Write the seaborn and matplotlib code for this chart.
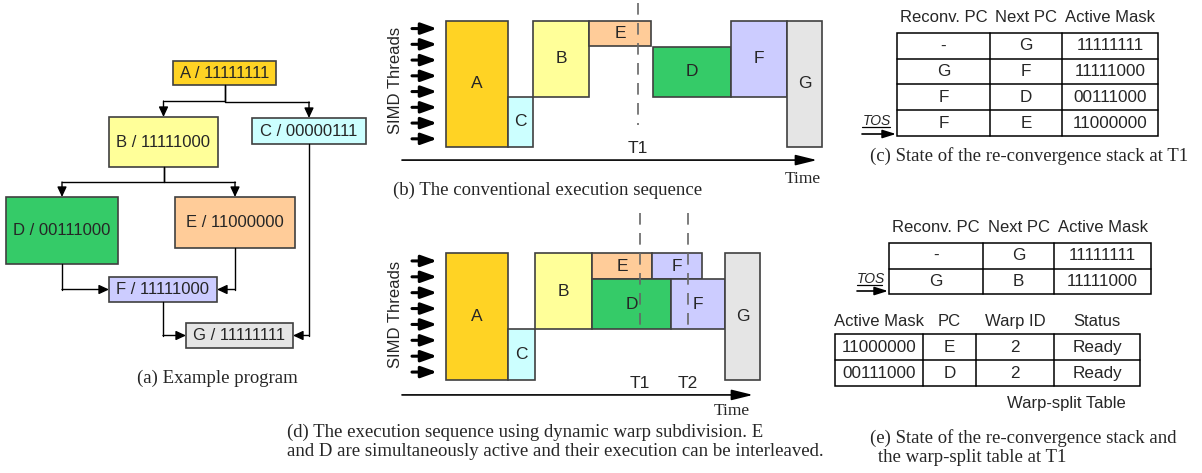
"""
Dynamic warp subdivision figure: example program, execution sequences
and re-convergence stack / warp-split table states.
"""

import matplotlib

matplotlib.use("Agg")
import matplotlib.pyplot as plt
from matplotlib.patches import Rectangle
import seaborn as sns

W, H = 1202, 473

# (a) example program: basic blocks and their active masks
NODES = ["A", "B", "C", "D", "E", "F", "G"]
MASKS = ["11111111", "11111000", "00000111", "00111000", "11000000", "11111000", "11111111"]
BRANCH_EDGES = [("A", "B"), ("A", "C"), ("B", "D"), ("B", "E")]
MERGE_EDGES = [("D", "F"), ("E", "F"), ("F", "G"), ("C", "G")]

# (b) conventional execution: block, start/end time, top/bottom thread lane
SEQ_B_BLOCK = ["A", "C", "B", "E", "D", "F", "G"]
SEQ_B_START = [0.0, 6.2, 8.7, 14.3, 20.7, 28.5, 34.1]
SEQ_B_END = [6.2, 8.7, 14.3, 20.5, 28.5, 34.1, 37.6]
SEQ_B_TOP = [0.0, 4.83, 0.0, 0.0, 1.65, 0.0, 0.0]
SEQ_B_BOTTOM = [8.0, 8.0, 4.83, 1.6, 4.83, 4.83, 8.0]
SEQ_B_MARK = ["T1"]
SEQ_B_MARK_T = [19.2]

# (d) dynamic warp subdivision
SEQ_D_BLOCK = ["A", "C", "B", "E", "F", "D", "F", "G"]
SEQ_D_START = [0.0, 6.2, 8.9, 14.6, 20.6, 14.6, 22.5, 27.9]
SEQ_D_END = [6.2, 8.9, 14.6, 20.6, 25.6, 22.5, 27.9, 31.4]
SEQ_D_TOP = [0.0, 4.8, 0.0, 0.0, 0.0, 1.64, 1.64, 0.0]
SEQ_D_BOTTOM = [8.0, 8.0, 4.8, 1.64, 1.64, 4.8, 4.8, 8.0]
SEQ_D_MARK = ["T1", "T2"]
SEQ_D_MARK_T = [19.4, 24.2]

N_THREADS = 8

# (c) re-convergence stack at T1
STACK_C_HEADER = ["Reconv. PC", "Next PC", "Active Mask"]
STACK_C_ROWS = [
    ["-", "G", "11111111"],
    ["G", "F", "11111000"],
    ["F", "D", "00111000"],
    ["F", "E", "11000000"],
]

# (e) stack + warp-split table at T1
STACK_E_ROWS = [
    ["-", "G", "11111111"],
    ["G", "B", "11111000"],
]
SPLIT_HEADER = ["Active Mask", "PC", "Warp ID", "Status"]
SPLIT_ROWS = [
    ["11000000", "E", "2", "Ready"],
    ["00111000", "D", "2", "Ready"],
]

COLORS = {
    "A": "#FFD324",
    "B": "#FFFF99",
    "C": "#CCFFFF",
    "D": "#35CB68",
    "E": "#FFCC99",
    "F": "#CCCCFF",
    "G": "#E5E5E5",
}

# layout of the flowchart boxes (pixels: left, top, right, bottom)
NODE_BOX = {
    "A": (173, 61, 276, 85),
    "B": (109, 117, 218, 167),
    "C": (252, 118, 366, 144),
    "D": (6, 197, 118, 264),
    "E": (175, 197, 295, 248),
    "F": (109, 277, 217, 302),
    "G": (186, 323, 293, 348),
}

SANS = "Liberation Sans"
SERIF = "Liberation Serif"
EDGE = "#404040"
CAPTION_SIZE = 13.5

sns.set_theme(style="white")
plt.rcParams["font.family"] = [SANS, "DejaVu Sans"]


def arrow(ax, start, end, lw=1.0, head="-|>,head_length=0.6,head_width=0.28", scale=10):
    ax.annotate(
        "",
        xy=end,
        xytext=start,
        arrowprops=dict(
            arrowstyle=head,
            color="black",
            lw=lw,
            shrinkA=0,
            shrinkB=0,
            mutation_scale=scale,
        ),
    )


def panel_axes(fig, box, origin, scale):
    """Axes over a pixel box whose data units are time steps and thread lanes"""
    x0, y0, x1, y1 = box
    ax = fig.add_axes([x0 / W, 1 - y1 / H, (x1 - x0) / W, (y1 - y0) / H])
    ax.set_xlim((x0 - origin[0]) / scale[0], (x1 - origin[0]) / scale[0])
    ax.set_ylim((y1 - origin[1]) / scale[1], (y0 - origin[1]) / scale[1])
    ax.axis("off")
    ax.patch.set_alpha(0)
    return ax


def draw_sequence(ax, blocks, start, end, top, bottom, marks, mark_t, mark_span,
                  label_y, axis_end, time_xy, simd_y):
    # thread arrows
    for lane in range(N_THREADS):
        arrow(ax, (-3.4, lane + 0.5), (-0.9, lane + 0.5), lw=2.2,
              head="-|>,head_length=0.95,head_width=0.34", scale=10)
    ax.text(-5.1, simd_y, "SIMD Threads", rotation=90, ha="center", va="center",
            fontsize=12)

    for name, s, e, t, b in zip(blocks, start, end, top, bottom):
        ax.add_patch(Rectangle((s, t), e - s, b - t, facecolor=COLORS[name],
                               edgecolor=EDGE, lw=1.2, zorder=2))
        ax.text((s + e) / 2, (t + b) / 2, name, ha="center", va="center",
                fontsize=12.5, zorder=3)

    for name, t in zip(marks, mark_t):
        ax.plot([t, t], mark_span, color="#666666", lw=1.2,
                linestyle=(0, (7, 5)), zorder=4)
        ax.text(t, label_y, name, ha="center", va="center", fontsize=12.5)

    arrow(ax, (-4.4, label_y + 0.75), (axis_end, label_y + 0.75), lw=1.2,
          head="-|>,head_length=0.65,head_width=0.16", scale=20)
    ax.text(time_xy[0], time_xy[1], "Time", ha="center", va="center",
            fontsize=12.5, family=SERIF)


def draw_table(ax, cols, top, row_h, rows, fontsize=12.3):
    n = len(rows)
    ax.add_patch(Rectangle((cols[0], top), cols[-1] - cols[0], n * row_h,
                           facecolor="white", edgecolor="black", lw=1.1))
    for x in cols[1:-1]:
        ax.plot([x, x], [top, top + n * row_h], color="black", lw=1.1)
    for i in range(1, n):
        ax.plot([cols[0], cols[-1]], [top + i * row_h] * 2, color="black", lw=1.1)
    for i, row in enumerate(rows):
        for j, val in enumerate(row):
            ax.text((cols[j] + cols[j + 1]) / 2, top + (i + 0.5) * row_h, val,
                    ha="center", va="center", fontsize=fontsize)


def draw_header(ax, cols, y, header):
    for j, name in enumerate(header):
        ax.text((cols[j] + cols[j + 1]) / 2, y, name, ha="center", va="center",
                fontsize=12)


def draw_tos(ax, x0, x1, text_y, arrow_y):
    ax.text((x0 + x1) / 2 - 2, text_y, "TOS", ha="center", va="center",
            fontsize=10, style="italic")
    ax.plot([x0, x1 - 6], [text_y + 6, text_y + 6], color="black", lw=0.9)
    arrow(ax, (x0, arrow_y), (x1, arrow_y), lw=1.2,
          head="-|>,head_length=0.8,head_width=0.25", scale=10)


def main():
    fig = plt.figure(figsize=(W / 100, H / 100), dpi=100)
    base = fig.add_axes([0, 0, 1, 1])
    base.set_xlim(0, W)
    base.set_ylim(H, 0)
    base.axis("off")

    # (a) example program
    for name, mask in zip(NODES, MASKS):
        l, t, r, b = NODE_BOX[name]
        base.add_patch(Rectangle((l, t), r - l, b - t, facecolor=COLORS[name],
                                 edgecolor=EDGE, lw=1.2, zorder=2))
        base.text((l + r) / 2, (t + b) / 2, f"{name} / {mask}", ha="center",
                  va="center", fontsize=12, zorder=3)

    for src, dst in BRANCH_EDGES:
        sl, st, sr, sb = NODE_BOX[src]
        dl, dt, dr, db = NODE_BOX[dst]
        sx, dx = (sl + sr) / 2, (dl + dr) / 2
        mid = round((sb + dt) / 2)
        base.plot([sx, sx, dx], [sb, mid, mid], color="black", lw=1.0)
        arrow(base, (dx, mid), (dx, dt))

    for src, dst in MERGE_EDGES:
        sl, st, sr, sb = NODE_BOX[src]
        dl, dt, dr, db = NODE_BOX[dst]
        sx, dy = (sl + sr) / 2, (dt + db) / 2
        side = dl if sx < dl else dr
        base.plot([sx, sx], [sb, dy], color="black", lw=1.0)
        arrow(base, (sx, dy), (side, dy))

    base.text(217, 378, "(a) Example program", ha="center", va="center",
              fontsize=CAPTION_SIZE, family=SERIF)

    # (b) conventional execution sequence
    ax_b = panel_axes(fig, (380, 0, 830, 200), (446, 20.7), (10, 15.75))
    draw_sequence(ax_b, SEQ_B_BLOCK, SEQ_B_START, SEQ_B_END, SEQ_B_TOP,
                  SEQ_B_BOTTOM, SEQ_B_MARK, SEQ_B_MARK_T, (-1.12, 6.62),
                  8.1, 37.1, (35.7, 10.05), 3.77)
    base.text(393, 190, "(b) The conventional execution sequence", ha="left",
              va="center", fontsize=CAPTION_SIZE, family=SERIF)

    # (d) dynamic warp subdivision
    ax_d = panel_axes(fig, (380, 200, 830, 420), (446, 253), (10, 15.875))
    draw_sequence(ax_d, SEQ_D_BLOCK, SEQ_D_START, SEQ_D_END, SEQ_D_TOP,
                  SEQ_D_BOTTOM, SEQ_D_MARK, SEQ_D_MARK_T, (-2.5, 5.04),
                  8.19, 30.7, (28.6, 9.95), 3.9)
    base.text(287, 432, "(d) The execution sequence using dynamic warp subdivision. E",
              ha="left", va="center", fontsize=CAPTION_SIZE, family=SERIF)
    base.text(287, 451,
              "and D are simultaneously active and their execution can be interleaved.",
              ha="left", va="center", fontsize=CAPTION_SIZE, family=SERIF)

    # (c) stack at T1
    cols_c = [897, 990, 1062, 1158]
    draw_header(base, cols_c, 17, STACK_C_HEADER)
    draw_table(base, cols_c, 33, 25.75, STACK_C_ROWS)
    draw_tos(base, 862, 896, 121, 134)
    base.text(870, 156, "(c) State of the re-convergence stack at T1", ha="left",
              va="center", fontsize=CAPTION_SIZE, family=SERIF)

    # (e) stack and warp-split table at T1
    cols_e = [889, 983, 1054, 1151]
    draw_header(base, cols_e, 227, STACK_C_HEADER)
    draw_table(base, cols_e, 243, 25.5, STACK_E_ROWS)
    draw_tos(base, 857, 888, 279, 291)

    cols_s = [835, 923, 976, 1054, 1140]
    draw_header(base, cols_s, 321, SPLIT_HEADER)
    draw_table(base, cols_s, 334, 26, SPLIT_ROWS)
    base.text(1066, 403, "Warp-split Table", ha="center", va="center", fontsize=12)
    base.text(870, 438, "(e) State of the re-convergence stack and", ha="left",
              va="center", fontsize=CAPTION_SIZE, family=SERIF)
    base.text(878, 457, "the warp-split table at T1", ha="left", va="center",
              fontsize=CAPTION_SIZE, family=SERIF)

    fig.savefig("out.png", dpi=100)
    plt.close(fig)


if __name__ == "__main__":
    main()
